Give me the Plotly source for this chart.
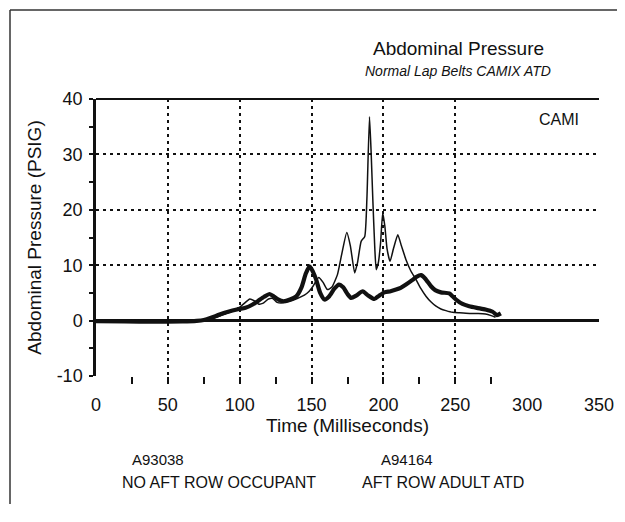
import plotly.graph_objects as go

# ---- data ----
thin_ms = [0, 20, 40, 60, 70, 75, 80, 85, 90, 95, 100, 104, 107, 110, 113, 116, 120, 123, 126,
           130, 135, 140, 145, 148, 151, 155, 158, 161, 164, 168, 171, 174.5, 177, 180, 182,
           184.5, 187, 188.5, 190.3, 191.5, 192.6, 194, 195, 196.5, 198, 199.5, 201, 202.5,
           204.6, 207, 210, 212.5, 215.7, 219, 222.7, 226, 229.6, 233, 236.6, 240, 243.5, 248,
           253, 260, 266, 271, 275, 278]
thin_psig = [0, 0, 0, 0, 0.05, 0.1, 0.3, 0.7, 1.2, 1.7, 2.4, 3.3, 3.9, 3.6, 3.0, 3.1, 3.9, 4.0, 3.3,
             3.2, 3.5, 4.0, 4.6, 5.2, 6.2, 7.8, 6.9, 5.6, 6.0, 8.3, 12.0, 15.9, 13.5, 8.6, 10.5,
             14.3, 15.2, 22.0, 36.8, 30.0, 22.0, 13.0, 9.2, 10.5, 14.0, 19.4, 17.0, 13.0,
             10.7, 13.0, 15.5, 13.5, 11.0, 9.0, 7.4, 5.8, 4.4, 3.4, 2.6, 2.1, 1.8, 1.5,
             1.4, 1.3, 1.3, 1.2, 0.9, 0.6]

thick_ms = [0, 20, 40, 60, 70, 75, 80, 86, 92, 98, 104, 109, 113, 117, 120.8, 124, 127, 130, 135,
            139.4, 143, 146, 148.6, 151, 153.2, 156, 159, 162, 166, 169, 172, 175, 177.5, 181,
            185.6, 189, 193.7, 197, 200.7, 205, 208.8, 212, 215.7, 220, 223, 226.2, 229, 233.1,
            236, 240, 245.8, 248, 250.5, 255, 259.7, 265, 271, 276, 279, 281.7]
thick_psig = [-0.1, -0.15, -0.2, -0.15, -0.05, 0.1, 0.5, 1.1, 1.6, 2.0, 2.3, 2.9, 3.6, 4.3, 4.8, 4.3,
              3.8, 3.5, 3.8, 4.4, 6.0, 8.5, 9.8, 8.8, 7.4, 5.0, 3.8, 4.3, 5.8, 6.5, 6.0, 4.8, 4.1,
              4.5, 5.3, 4.6, 3.9, 4.5, 5.1, 5.3, 5.6, 5.9, 6.5, 7.3, 7.9, 8.2, 7.6, 6.2, 5.5, 5.1,
              4.9, 4.4, 3.8, 3.0, 2.6, 2.3, 2.0, 1.6, 1.0, 1.3]

x_tick_vals = [0, 50, 100, 150, 200, 250, 300, 350]
x_tick_text = ["0", "50", "100", "150", "200", "250", "300", "350"]
x_grid_vals = [50, 100, 150, 200, 250]
x_minor_vals = [25, 50, 75, 100, 125, 150, 175, 200, 225, 250, 275]
y_tick_vals = [-10, 0, 10, 20, 30, 40]
y_tick_text = ["-10", "0", "10", "20", "30", "40"]
y_grid_vals = [10, 20, 30]
y_minor_vals = [-5, 5, 15, 25, 35]

title_text = "Abdominal Pressure"
subtitle_text = "Normal Lap Belts CAMIX ATD"
x_title = "Time (Milliseconds)"
y_title = "Abdominal Pressure (PSIG)"
corner_label = "CAMI"
test_ids = ["A93038", "A94164"]
test_descs = ["NO AFT ROW OCCUPANT", "AFT ROW ADULT ATD"]

FONT = "Liberation Sans, Arial, sans-serif"
INK = "#111111"

fig = go.Figure()
fig.add_trace(go.Scatter(x=thin_ms, y=thin_psig, mode="lines", name="thin",
                         line=dict(color=INK, width=1.5, shape="spline", smoothing=0.5),
                         showlegend=False))
fig.add_trace(go.Scatter(x=thick_ms, y=thick_psig, mode="lines", name="thick",
                         line=dict(color=INK, width=4.2, shape="spline", smoothing=0.6),
                         showlegend=False))
# empty trace to hold the grid overlay axes
fig.add_trace(go.Scatter(x=[], y=[], xaxis="x2", yaxis="y2", showlegend=False, hoverinfo="skip"))

grid_style = dict(showgrid=True, gridcolor=INK, gridwidth=1.8, griddash="3px,4px")

# the page has an 8px body margin, so the figure is sized/offset to compensate
fig.update_layout(
    width=617, height=496,
    margin=dict(l=88, r=26, t=91, b=128),
    paper_bgcolor="white", plot_bgcolor="white",
    font=dict(family=FONT, color=INK, size=18),
    showlegend=False,
    xaxis=dict(
        range=[0, 350], tickvals=x_tick_vals, ticktext=x_tick_text, ticks="",
        showgrid=False, zeroline=False, showline=False, automargin=False,
        tickfont=dict(size=18), ticklabelstandoff=16,
        minor=dict(tickvals=x_minor_vals, ticks="outside", ticklen=7, tickwidth=2,
                   tickcolor=INK, showgrid=False),
        title=dict(text=x_title, font=dict(size=19), standoff=2),
    ),
    yaxis=dict(
        range=[-10, 40], tickvals=y_tick_vals, ticktext=y_tick_text,
        ticks="outside", ticklen=4, tickwidth=2, tickcolor=INK,
        showgrid=False, zeroline=True, zerolinecolor=INK, zerolinewidth=2.5,
        showline=True, linecolor=INK, linewidth=2.5, automargin=False,
        tickfont=dict(size=18), ticklabelstandoff=3,
        minor=dict(tickvals=y_minor_vals, ticks="outside", ticklen=4, tickwidth=2,
                   tickcolor=INK, showgrid=False),
        title=dict(text=y_title, font=dict(size=19), standoff=10),
    ),
    xaxis2=dict(overlaying="x", anchor="y2", range=[0, 350], tickvals=x_grid_vals,
                showticklabels=False, ticks="", zeroline=False, showline=False, **grid_style),
    yaxis2=dict(overlaying="y", anchor="x2", range=[-10, 40], tickvals=y_grid_vals,
                showticklabels=False, ticks="", zeroline=False, showline=False, **grid_style),
)

# solid frame line at the top of the plot (y = 40)
fig.add_shape(type="line", xref="paper", yref="paper", x0=0, x1=1, y0=1, y1=1,
              line=dict(color=INK, width=2.2), layer="above")


def px(x):
    return (x - 96) / 503


def py(y):
    return (376 - y) / 277


# outer page border (top and left visible in the scan)
bx = px(10)
by = py(10)
fig.add_shape(type="line", xref="paper", yref="paper", x0=bx, x1=1.1, y0=by, y1=by,
              line=dict(color="#333333", width=1.5))
fig.add_shape(type="line", xref="paper", yref="paper", x0=bx, x1=bx, y0=by, y1=-0.6,
              line=dict(color="#333333", width=1.5))

ann = [
    dict(text=title_text, x=px(458), y=py(48), size=19),
    dict(text="<i>" + subtitle_text + "</i>", x=px(458), y=py(71), size=14),
    dict(text=corner_label, x=px(559), y=py(119), size=16),
    dict(text=test_ids[0], x=px(158), y=py(460), size=15),
    dict(text=test_ids[1], x=px(407), y=py(460), size=15),
    dict(text=test_descs[0], x=px(219), y=py(482), size=16),
    dict(text=test_descs[1], x=px(443), y=py(482), size=16),
]
for a in ann:
    fig.add_annotation(text=a["text"], x=a["x"], y=a["y"], xref="paper", yref="paper",
                       xanchor="center", yanchor="middle", showarrow=False,
                       font=dict(family=FONT, size=a["size"], color=INK))

fig.write_html("out.html")
